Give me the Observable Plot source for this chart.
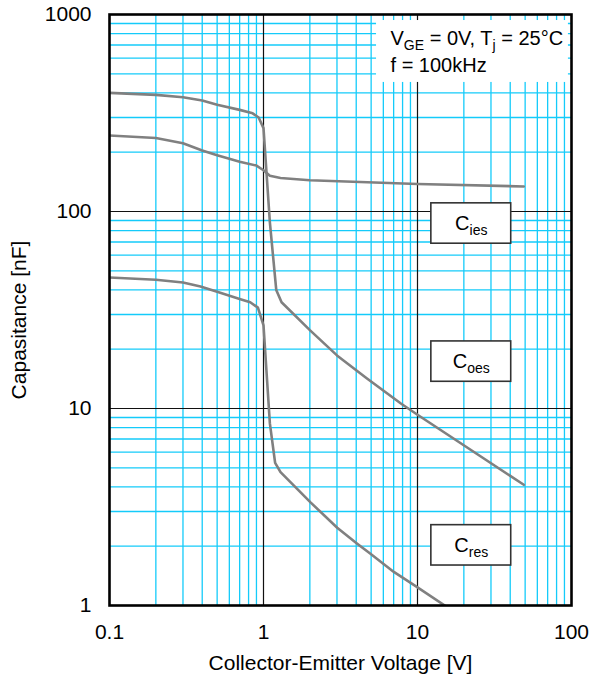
<!DOCTYPE html>
<html>
<head>
<meta charset="utf-8">
<script src="https://cdn.jsdelivr.net/npm/d3@7"></script>
<script src="https://cdn.jsdelivr.net/npm/@observablehq/plot@0.6"></script>
<style>
  html, body { margin: 0; padding: 0; background: #fff; }
</style>
</head>
<body>
<div id="chart"></div>
<script>
// ---- Data ----
const xTicks = [0.1, 1, 10, 100];
const yTicks = [1, 10, 100, 1000];
const xMinor = [0.2,0.3,0.4,0.5,0.6,0.7,0.8,0.9, 2,3,4,5,6,7,8,9, 20,30,40,50,60,70,80,90];
const yMinor = [2,3,4,5,6,7,8,9, 20,30,40,50,60,70,80,90, 200,300,400,500,600,700,800,900];
const xMajor = [1, 10];
const yMajor = [10, 100];

// Upper curve (400 nF at low V, falls to the middle branch)
const vA = [0.1, 0.2, 0.3, 0.4, 0.5, 0.7, 0.85, 0.93, 1.0, 1.1, 1.21, 1.31, 2.0, 3.0, 4.7, 7.8, 10, 49];
const cA = [400, 391, 380, 366, 348, 328, 315, 300, 265, 88, 40, 34.6, 25, 18.6, 14.2, 10.6, 9.3, 4.1];
// Second curve (flat branch ~140 nF)
const vB = [0.1, 0.2, 0.3, 0.4, 0.5, 0.6, 0.7, 0.9, 1.0, 1.1, 1.29, 2.0, 10, 49];
const cB = [243, 236, 222, 204, 193, 185, 179, 171, 162, 152, 148, 144, 138, 134];
// Lower curve (46 nF at low V, falls to lowest branch)
const vC = [0.1, 0.2, 0.3, 0.39, 0.5, 0.7, 0.82, 0.92, 1.0, 1.1, 1.19, 1.29, 2.02, 3.01, 4.06, 4.95, 7.02, 9.95, 15.6];
const cC = [46.2, 45, 43.6, 41.6, 39.1, 36, 34.6, 32.5, 26.4, 8.4, 5.3, 4.75, 3.34, 2.48, 2.06, 1.83, 1.48, 1.24, 0.98];

const labelTexts = ["C_{ies}", "C_{oes}", "C_{res}"];
const labelV = [22.35, 22.35, 22.35];
const labelC = [86.9, 17.3, 2.02];

const noteLines = ["V_{GE} = 0V, T_{j} = 25°C", "f = 100kHz"];
const xTitle = "Collector-Emitter Voltage [V]";
const yTitle = "Capasitance [nF]";

// ---- Build tables ----
const series = [
  ...vA.map((v, i) => ({s: "A", v, c: cA[i]})),
  ...vB.map((v, i) => ({s: "B", v, c: cB[i]})),
  ...vC.map((v, i) => ({s: "C", v, c: cC[i]}))
];
const labels = labelTexts.map((t, i) => ({t, v: labelV[i], c: labelC[i]}));
const notes = noteLines.map((t, i) => ({t, v: 6.68, c: i === 0 ? 757 : 552}));

const FONT = "'Liberation Sans', Arial, Helvetica, sans-serif";
const fmt = d => String(d);

const chart = Plot.plot({
  width: 590,
  height: 681,
  marginLeft: 109,
  marginRight: 19,
  marginTop: 14,
  marginBottom: 76,
  style: {fontFamily: FONT, fontSize: "21px", background: "white", color: "black"},
  x: {type: "log", domain: [0.1, 100], ticks: xTicks, tickFormat: fmt, tickSize: 0, tickPadding: 19, label: null},
  y: {type: "log", domain: [1, 1000], ticks: yTicks, tickFormat: fmt, tickSize: 0, tickPadding: 18, label: null},
  marks: [
    Plot.ruleX(xMinor, {stroke: "#14cbfa", strokeWidth: 1.3}),
    Plot.ruleY(yMinor, {stroke: "#14cbfa", strokeWidth: 1.3}),
    Plot.ruleX(xMajor, {stroke: "#111", strokeWidth: 1.2}),
    Plot.ruleY(yMajor, {stroke: "#111", strokeWidth: 1.2}),
    // white note box
    Plot.rect([0], {x1: () => 5.42, x2: () => 95.5, y1: () => 452, y2: () => 932, fill: "white"}),
    Plot.text(notes, {x: "v", y: "c", text: "t", textAnchor: "start", lineAnchor: "middle", fontSize: 20, fill: "black"}),
    // curves
    Plot.line(series, {x: "v", y: "c", z: "s", stroke: "#808080", strokeWidth: 2.6, curve: "linear", strokeLinejoin: "round", clip: true}),
    // label boxes
    Plot.rect(labels, {x1: () => 12.3, x2: () => 40.6, y1: d => d.c / 1.266, y2: d => d.c * 1.266, fill: "white", stroke: "#333", strokeWidth: 1.6}),
    Plot.text(labels, {x: "v", y: "c", text: "t", textAnchor: "middle", lineAnchor: "middle", fontSize: 20, fill: "black"}),
    // titles
    Plot.text([xTitle], {text: d => d, frameAnchor: "bottom", dy: 58, textAnchor: "middle", lineAnchor: "middle", fontSize: 21}),
    Plot.text([yTitle], {text: d => d, frameAnchor: "left", dx: -90.5, dy: 10, rotate: -90, textAnchor: "middle", lineAnchor: "middle", fontSize: 21}),
    Plot.frame({stroke: "black", strokeWidth: 2.6})
  ]
});

// Convert _{...} into subscript tspans
(function applySubs(svg) {
  const ns = "http://www.w3.org/2000/svg";
  svg.querySelectorAll("text").forEach(t => {
    const s = t.textContent;
    if (!s.includes("_{")) return;
    while (t.firstChild) t.removeChild(t.firstChild);
    const parts = s.split(/(_\{[^}]*\})/).filter(p => p);
    let shifted = false;
    parts.forEach(p => {
      const ts = document.createElementNS(ns, "tspan");
      if (p.startsWith("_{")) {
        ts.textContent = p.slice(2, -1);
        ts.setAttribute("font-size", "14px");
        ts.setAttribute("dy", "5");
        shifted = true;
      } else {
        ts.textContent = p;
        if (shifted) { ts.setAttribute("dy", "-5"); shifted = false; }
      }
      t.appendChild(ts);
    });
  });
})(chart);

document.getElementById("chart").appendChild(chart);
</script>
</body>
</html>
